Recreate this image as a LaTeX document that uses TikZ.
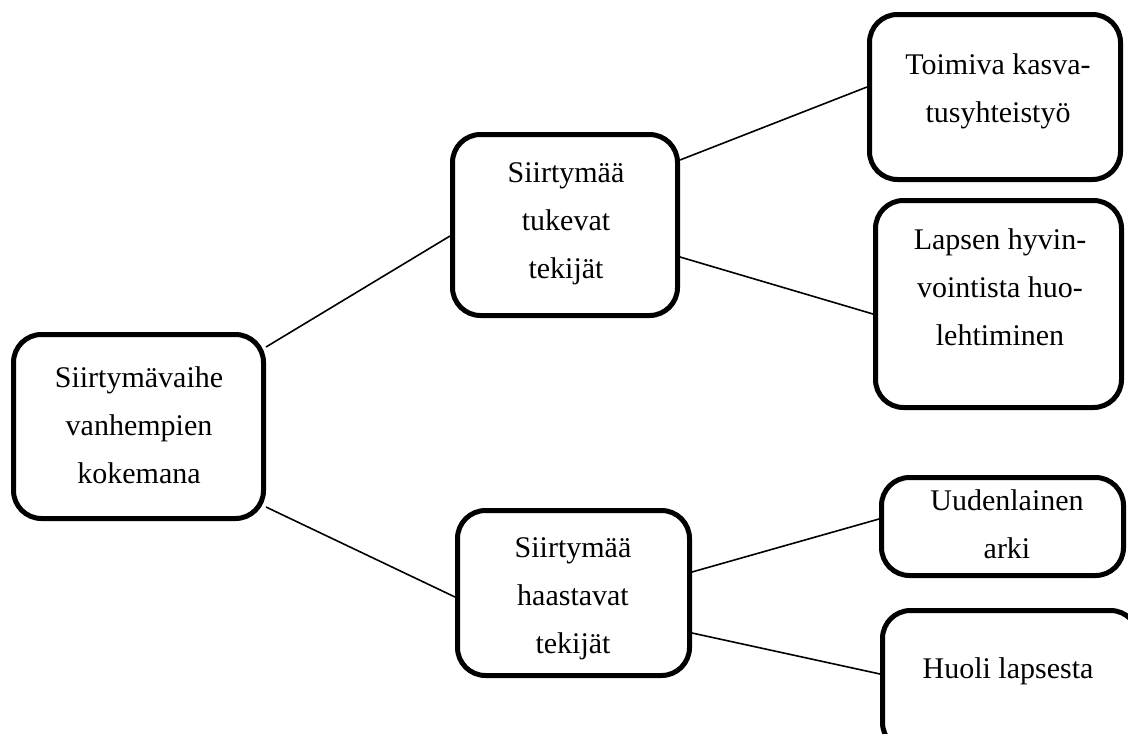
\documentclass[tikz,border=0pt]{standalone}
\usepackage{fontspec}
\setmainfont{Liberation Serif}
\tikzset{
  box/.style={draw, line width=5pt, rounded corners=28pt, fill=white, inner sep=0pt},
  lbl/.style={align=center, font=\fontsize{30}{48}\selectfont, inner sep=0pt},
  link/.style={line width=1.6pt}
}
\newcommand\stt{\rule[-8pt]{0pt}{28pt}}
\begin{document}
\begin{tikzpicture}[x=1pt,y=-1pt]
\useasboundingbox (0,0) rectangle (1128,734);
\fill[white] (0,0) rectangle (1128,734);
\clip (0,0) rectangle (1128,734);
% boxes
\node[box, minimum width=250pt, minimum height=184pt] (R) at (138.5,426.5) {};
\node[box, minimum width=225pt, minimum height=181pt] (T) at (565,225) {};
\node[box, minimum width=232pt, minimum height=165pt] (H) at (573.5,593) {};
\node[box, minimum width=251pt, minimum height=165pt] (A) at (995,97) {};
\node[box, minimum width=246pt, minimum height=207pt] (B) at (998.5,304) {};
\node[box, minimum width=242pt, minimum height=98pt] (C) at (1002.5,526.5) {};
\node[box, minimum width=256pt, minimum height=140pt] (D) at (1010.5,680.5) {};
% texts
\node[lbl] (tR) at (139,429) {\stt Siirtymävaihe\\\stt vanhempien\\\stt kokemana};
\node[lbl] (tT) at (566,224.5) {\stt Siirtymää\\\stt tukevat\\\stt tekijät};
\node[lbl] (tH) at (573,599) {\stt Siirtymää\\\stt haastavat\\\stt tekijät};
\node[lbl] (tA) at (998,92) {\stt Toimiva kasva-\\\stt tusyhteistyö};
\node[lbl] (tB) at (1000,291.5) {\stt Lapsen hyvin-\\\stt vointista huo-\\\stt lehtiminen};
\node[lbl] (tC) at (1007,528) {\stt Uudenlainen\\\stt arki};
\node[lbl] (tD) at (1008,672) {\stt Huoli lapsesta};
% connectors
\draw[link] ([yshift=79.5pt]R.east) -- ([yshift=-11pt]T.west);
\draw[link] ([yshift=-80.5pt]R.east) -- ([yshift=-4pt]H.west);
\draw[link] ([yshift=65pt]T.east) -- ([yshift=10pt]A.west);
\draw[link] ([yshift=-32pt]T.east) -- ([yshift=-10pt]B.west);
\draw[link] ([yshift=21pt]H.east) -- ([yshift=7.5pt]C.west);
\draw[link] ([yshift=-40pt]H.east) -- ([yshift=6.5pt]D.west);
\end{tikzpicture}
\end{document}
